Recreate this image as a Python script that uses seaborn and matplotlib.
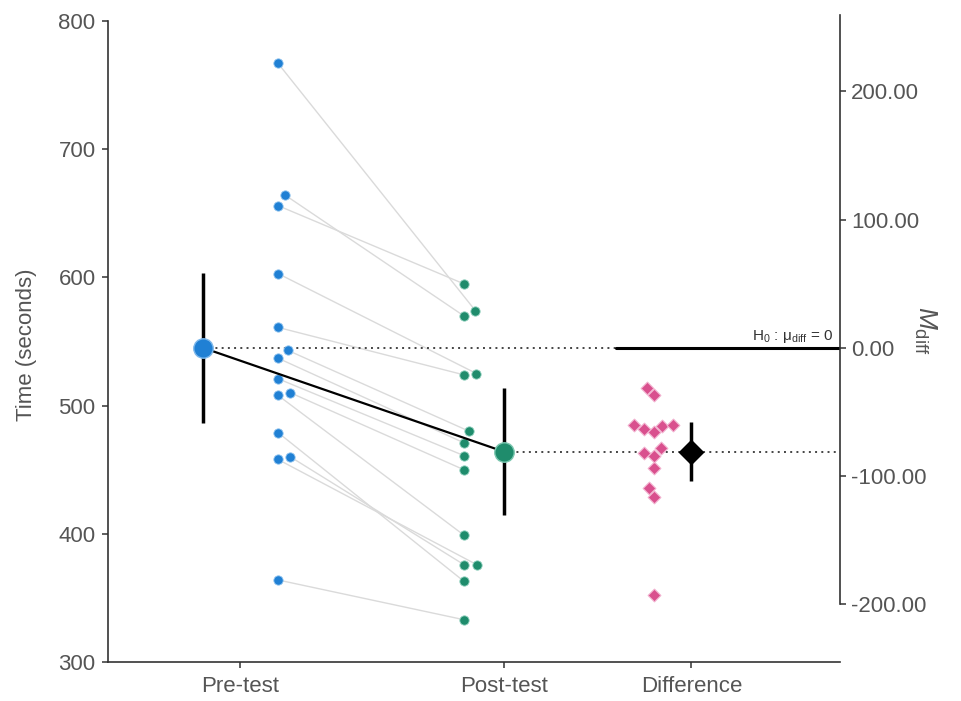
import numpy as np
import matplotlib
matplotlib.use("Agg")
import matplotlib.pyplot as plt
import seaborn as sns

# paired times (seconds), one entry per participant
pre_test = [767, 664, 656, 603, 561, 543, 537, 521, 510, 508, 479, 460, 458, 364]
post_test = [574, 570, 595, 525, 524, 480, 471, 461, 450, 399, 363, 376, 376, 333]
group_labels = ["Pre-test", "Post-test", "Difference"]
left_ticks = [300, 400, 500, 600, 700, 800]
right_ticks = [-200, -100, 0, 100, 200]
t_crit = 2.160  # t(.975, df = 13)

pre = np.array(pre_test, dtype=float)
post = np.array(post_test, dtype=float)
diff = post - pre
n = len(pre)

def mean_ci(v):
    return v.mean(), t_crit * v.std(ddof=1) / np.sqrt(len(v))

pre_mean, pre_ci = mean_ci(pre)
post_mean, post_ci = mean_ci(post)
diff_mean, diff_ci = mean_ci(diff)

# layout (x positions in axis units)
tick_x = [1, 2, 2.71]
pre_mean_x, pre_pts_x = 0.86, 1.144
post_pts_x, post_mean_x = 1.848, 2.0
diff_pts_x, diff_mean_x = 2.568, 2.708
h0_start = 2.424
x_lo, x_hi = 0.5, 3.273
y_lo, y_hi = 300, 805

blue = "#2080d4"
green = "#1f8c6c"
pink = "#d9508e"
grey_txt = "#555555"

sns.set_style("ticks")
plt.rcParams["font.family"] = ["Liberation Sans", "DejaVu Sans"]
plt.rcParams["axes.unicode_minus"] = False
plt.rcParams["mathtext.fontset"] = "custom"
plt.rcParams["mathtext.rm"] = "Liberation Sans"
plt.rcParams["mathtext.it"] = "Liberation Sans:italic"

fig = plt.figure(figsize=(9.61, 7.01), dpi=100)
ax = fig.add_axes([108 / 961, 39 / 701, 732 / 961, 647.4 / 701])
ax.set_xlim(x_lo, x_hi)
ax.set_ylim(y_lo, y_hi)
ax2 = ax.twinx()
ax2.set_ylim(y_lo - pre_mean, y_hi - pre_mean)


def dodge_right(values, x0, d_px=12.7):
    # one-sided swarm: push overlapping points to the right (lowest first)
    xs = np.full(len(values), float(x0))
    placed = []
    px0 = ax.transData.transform((x0, 0))[0]
    for i in np.argsort(values, kind="stable"):
        py = ax.transData.transform((x0, values[i]))[1]
        near = [(qx, abs(py - qy)) for qx, qy in placed if abs(py - qy) < d_px]
        cands = sorted([px0] + [qx + np.sqrt(d_px ** 2 - dy ** 2) for qx, dy in near])
        for c in cands:
            if all(np.hypot(c - qx, dy) >= d_px - 1e-6 for qx, dy in near):
                break
        placed.append((c, py))
        xs[i] = ax.transData.inverted().transform((c, py))[0]
    return xs


pre_x = dodge_right(pre, pre_pts_x)
post_x = dodge_right(post, post_pts_x)

# participant lines
for i in range(n):
    ax.plot([pre_x[i], post_x[i]], [pre[i], post[i]], color="#dadada", lw=1, zorder=1)

sns.scatterplot(x=pre_x, y=pre, color=blue, s=45, edgecolor="#8fc3ef", linewidth=0.6, ax=ax, zorder=3)
sns.scatterplot(x=post_x, y=post, color=green, s=45, edgecolor="#8fd0bd", linewidth=0.6, ax=ax, zorder=3)

# reference lines
ax.plot([pre_mean_x, h0_start], [pre_mean, pre_mean], color="#444444", lw=1.4, ls=(0, (1, 2.2)), zorder=2)
ax.plot([post_mean_x, x_hi], [post_mean, post_mean], color="#444444", lw=1.4, ls=(0, (1, 2.2)), zorder=2)
ax2.plot([h0_start, x_hi], [0, 0], color="black", lw=2.2, zorder=2)

# means with 95% CI
ax.plot([pre_mean_x, post_mean_x], [pre_mean, post_mean], color="black", lw=1.6, zorder=4)
ax.errorbar(pre_mean_x, pre_mean, yerr=pre_ci, fmt="o", color=blue, ms=14, mec="#7db8ec",
            ecolor="black", elinewidth=2.5, capsize=0, zorder=5)
ax.errorbar(post_mean_x, post_mean, yerr=post_ci, fmt="o", color=green, ms=14, mec="#7cc7b0",
            ecolor="black", elinewidth=2.5, capsize=0, zorder=5)

# differences on the right-hand axis
sns.swarmplot(x=np.full(n, diff_pts_x), y=diff, native_scale=True, orient="x", ax=ax2,
              marker="D", size=6.5, color=pink, edgecolor="#f2b2cf", linewidth=0.8, zorder=3)
ax2.errorbar(diff_mean_x, diff_mean, yerr=diff_ci, fmt="D", color="black", ms=12,
             ecolor="black", elinewidth=2.5, capsize=0, zorder=5)
ax2.annotate(r"H$_0$ : μ$_{\mathrm{diff}}$ = 0", xy=(3.246, 0), xytext=(0, 2),
             textcoords="offset points", ha="right", va="bottom", fontsize=11, color="#333333")

# axes cosmetics
ax.set_xlim(x_lo, x_hi)
ax.set_ylim(y_lo, y_hi)
ax2.set_ylim(y_lo - pre_mean, y_hi - pre_mean)
ax.set_xticks(tick_x, group_labels)
ax.set_yticks(left_ticks)
ax2.set_yticks(right_ticks, [f"{v:.2f}" for v in right_ticks])

for s in ["top", "right"]:
    ax.spines[s].set_visible(False)
for s in ["top", "left", "bottom"]:
    ax2.spines[s].set_visible(False)
ax.spines["left"].set_bounds(300, 800)
ax2.spines["right"].set_bounds(-200, y_hi - pre_mean)
for sp in [ax.spines["left"], ax.spines["bottom"], ax2.spines["right"]]:
    sp.set_color("#333333")
    sp.set_linewidth(1.2)

ax.tick_params(axis="y", length=4, width=1.1, color="#333333", labelcolor=grey_txt, labelsize=16, pad=5)
ax.tick_params(axis="x", length=4, width=1.1, color="#333333", labelcolor=grey_txt, labelsize=16, pad=6)
ax2.tick_params(axis="y", length=4, width=1.1, color="#333333", labelcolor=grey_txt, labelsize=16, pad=4)

ax.set_xlabel("")
ax.set_ylabel("Time (seconds)", fontsize=16, color=grey_txt)
ax.yaxis.set_label_coords(-0.097, 0.49)
ax2.set_ylabel(r"$M_{\mathrm{diff}}$", rotation=270, fontsize=19, color=grey_txt, va="center", ha="center")
ax2.yaxis.set_label_coords(1.116, 0.513)

fig.savefig("out.png", dpi=100)
